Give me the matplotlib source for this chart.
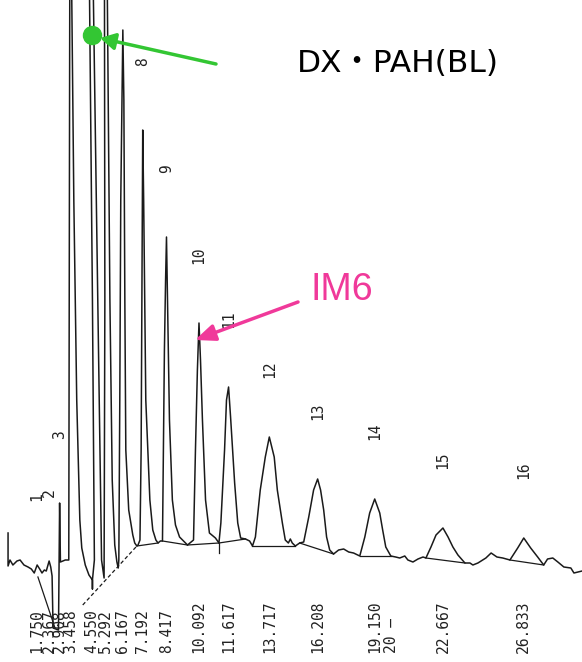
from matplotlib import pyplot as plt
import numpy as np

#####

# recorder trace: retention time (min) vs detector response
trace_t = [0.25, 0.25, 0.35, 0.50, 0.71, 0.87, 1.07, 1.28, 1.45, 1.60, 1.75, 1.88, 2.00, 2.12,
           2.22, 2.367, 2.45, 2.52, 2.57, 2.85, 2.908, 2.95, 3.20, 3.38, 3.43, 3.458, 3.535,
           3.64, 3.79, 3.95, 4.05, 4.23, 4.42, 4.60, 4.60, 4.60, 4.70, 4.60, 4.45, 4.55, 4.65,
           4.80, 4.95, 5.07, 5.20, 5.24, 5.22, 5.292, 5.37, 5.50, 5.62, 5.75, 5.86, 5.93,
           5.96, 6.01, 6.06, 6.167, 6.22, 6.27, 6.32, 6.47, 6.68, 6.78, 6.89,
           6.95, 7.05, 7.11, 7.15, 7.192, 7.24, 7.35, 7.56, 7.71, 7.87, 7.98,
           8.10, 8.21, 8.26, 8.31, 8.37, 8.417, 8.47, 8.57, 8.72, 8.88, 9.09, 9.35, 9.50,
           9.81, 9.91, 10.01, 10.092, 10.17, 10.27, 10.43, 10.63, 10.94, 11.12,
           11.22, 11.41, 11.51, 11.617, 11.72, 11.93, 12.09, 12.24, 12.49, 12.70, 12.85,
           13.00, 13.25, 13.51, 13.717, 13.97, 14.13, 14.39, 14.54, 14.70, 14.80, 14.90, 15.06,
           15.28, 15.49, 15.75, 16.00, 16.208, 16.36, 16.52, 16.67, 16.83, 17.03, 17.29, 17.55,
           17.81, 18.06, 18.38,
           18.64, 18.89, 19.150, 19.41, 19.56, 19.72, 19.98, 20.23, 20.44, 20.70, 20.86, 21.12,
           21.38, 21.64, 21.79,
           22.05, 22.31, 22.667, 22.93, 23.18, 23.44, 23.80, 24.06, 24.21, 24.47, 24.88, 25.15,
           25.45, 25.75, 26.12,
           26.52, 26.833, 27.19, 27.55, 27.86, 28.06, 28.33, 28.59, 28.90, 29.26, 29.42, 29.63, 29.84]
trace_s = [67, 34, 40, 35, 39, 40, 35, 33, 31, 27, 35, 31, 27, 30,
           29, 39, 33, 24, -28, -30, 97, 38, 40, 40, 600, 680, 600,
           400, 200, 80, 52, 35, 25, 20, 11, 20, 40, 300, 600, 700, 600,
           400, 200, 40, 22, 300, 600, 700, 600, 300, 120, 55, 38, 32,
           40, 200, 400, 570, 500, 300, 150, 90, 65, 57, 54,
           55, 60, 150, 300, 470, 400, 200, 100, 70, 60, 57,
           59, 59, 150, 250, 320, 363, 300, 180, 100, 75, 63, 58, 55,
           60, 150, 230, 277, 240, 180, 100, 67, 62, 57,
           77, 150, 200, 213, 183, 117, 77, 62, 61, 59, 54,
           63, 110, 143, 163, 143, 110, 77, 60, 57, 61, 57, 54,
           57, 58, 83, 110, 121, 110, 90, 63, 50, 46, 50, 51,
           48, 47, 44,
           63, 87, 101, 87, 70, 53, 44, 43, 42, 44, 40, 38,
           41, 43, 42,
           53, 65, 72, 63, 53, 45, 37, 37, 35, 37, 42, 47,
           43, 42, 40,
           52, 62, 52, 43, 35, 41, 42, 38, 33, 32, 27, 28, 29]

# integrator baselines (start time, start level, end time, end level)
base_t0 = [1.79, 6.89, 8.21, 9.50, 11.12, 12.85, 15.28, 18.38, 21.79, 26.12]
base_s0 = [23, 54, 59, 55, 57, 54, 57, 44, 42, 40]
base_t1 = [2.67, 7.98, 9.50, 11.12, 12.49, 15.06, 17.03, 19.98, 23.80, 27.86]
base_s1 = [-28, 57, 55, 57, 61, 54, 46, 44, 37, 35]
# the long drifting baseline under the big early peaks
drift_t = [4.10, 6.89]
drift_s = [-5, 54]
# valley marks
mark_t = [11.12]
mark_s0 = [57]
mark_s1 = [47]

# peak numbers printed above the peaks (4-7 are off the paper)
peak_no = [1, 2, 3, 8, 9, 10, 11, 12, 13, 14, 15, 16]
peak_rt = [1.750, 2.367, 2.908, 7.192, 8.417, 10.092, 11.617, 13.717, 16.208, 19.150, 22.667, 26.833]

# retention times printed along the bottom
rt_values = [1.750, 2.367, 2.908, 3.458, 4.550, 5.292, 6.167, 7.192, 8.417, 10.092,
             11.617, 13.717, 16.208, 19.150, 22.667, 26.833]
rt_labels = ['1.750', '2.367', '2.908', '3.458', '4.550', '5.292', '6.167', '7.192', '8.417',
             '10.092', '11.617', '13.717', '16.208', '19.150', '22.667', '26.833']

#####

green = '#33c633'
pink = '#f0399a'
ink = '#1a1a1a'
mono = 'DejaVu Sans Mono'

fig = plt.figure(figsize=(5.82, 6.62), dpi=100)
ax = fig.add_axes([0, 0, 1, 1])
ax.set_xlim(-0.165, 29.835)
ax.set_ylim(-62, 600)
ax.axis('off')

ax.plot(trace_t, trace_s, color=ink, linewidth=1.1)

for i in range(len(base_t0)):
    ax.plot([base_t0[i], base_t1[i]], [base_s0[i], base_s1[i]], color=ink, linewidth=0.9)
ax.plot(drift_t, drift_s, color=ink, linewidth=0.9, linestyle=(0, (3, 2)))
for i in range(len(mark_t)):
    ax.plot([mark_t[i], mark_t[i]], [mark_s0[i], mark_s1[i]], color=ink, linewidth=0.9)

# peak numbers sit a fixed distance above each apex
for n, rt in zip(peak_no, peak_rt):
    top = np.interp(rt, trace_t, trace_s)
    ax.text(rt, top + 68, str(n), rotation=90, ha='center', va='center',
            fontsize=10.5, family=mono, color='#222222')

for rt, lab in zip(rt_values, rt_labels):
    ax.text(rt, -53, lab, rotation=90, ha='center', va='bottom',
            fontsize=10.5, family=mono, color='#222222')
ax.text(20.0, -53, '20 \u2014', rotation=90, ha='center', va='bottom',
        fontsize=10.5, family=mono, color='#222222')

# annotations
ax.plot([92/582], [1-35/662], marker='o', markersize=13, color=green, transform=ax.transAxes)
ax.annotate('', xy=(100/582, 1-38/662), xytext=(216/582, 1-64/662),
            xycoords='axes fraction', textcoords='axes fraction',
            arrowprops=dict(arrowstyle='-|>,head_length=0.45,head_width=0.25',
                            color=green, lw=2.5, mutation_scale=20, shrinkA=0, shrinkB=0))
ax.text(297/582, 1-72/662, 'DX\u30fbPAH(BL)', transform=ax.transAxes, ha='left', va='baseline',
        fontsize=22.5, family=['DejaVu Sans', 'Noto Sans CJK JP'], color='black')

ax.annotate('', xy=(195/582, 1-340/662), xytext=(298/582, 1-302/662),
            xycoords='axes fraction', textcoords='axes fraction',
            arrowprops=dict(arrowstyle='-|>,head_length=0.6,head_width=0.25',
                            color=pink, lw=2.5, mutation_scale=20, shrinkA=0, shrinkB=0))
ax.text(310/582, 1-300/662, 'IM6', transform=ax.transAxes, ha='left', va='baseline',
        fontsize=27, family='Liberation Sans', color=pink)

fig.savefig('out.png', dpi=100)
print('out.png')
